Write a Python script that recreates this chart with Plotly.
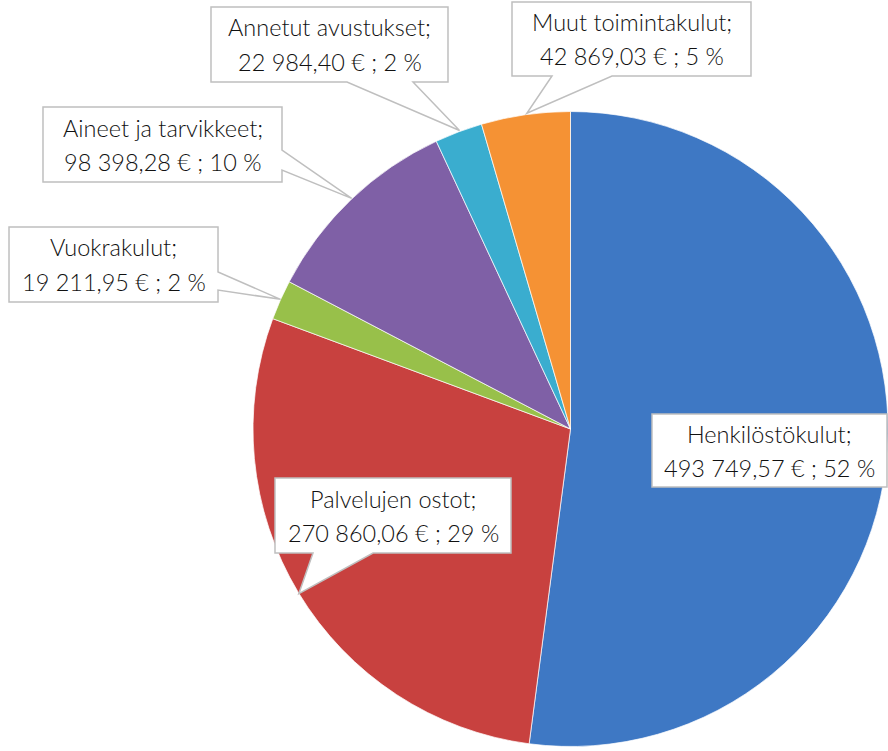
import plotly.graph_objects as go
import math

# ---- data ----
categories = ["Henkilöstökulut", "Palvelujen ostot", "Vuokrakulut",
              "Aineet ja tarvikkeet", "Annetut avustukset", "Muut toimintakulut"]
values = [493749.57, 270860.06, 19211.95, 98398.28, 22984.40, 42869.03]
colors = ["#3E78C4", "#C8413F", "#98C04A", "#7F60A6", "#3AADCF", "#F59234"]

W, H = 888, 751
CX, CY, R = 572, 429, 319  # pie centre / radius in pixels

def fmt_eur(v):
    s = f"{v:,.2f}"
    s = s.replace(",", " ").replace(".", ",")
    return s + " €"

total = sum(values)

def px(x):
    return x / W

def py(y):
    return 1 - y / H

# label callout boxes (pixels: x0, y0, x1, y1), wedge side + base positions
boxes = {
    "Henkilöstökulut": dict(box=(652, 414, 887, 487), side=None),
    "Palvelujen ostot": dict(box=(275, 478, 511, 553), side="bottom", base=(313, 373)),
    "Vuokrakulut": dict(box=(9, 227, 218, 302), side="right", base=(272, 290)),
    "Aineet ja tarvikkeet": dict(box=(43, 107, 282, 182), side="right", base=(150, 170)),
    "Annetut avustukset": dict(box=(211, 7, 448, 82), side="bottom", base=(347, 413)),
    "Muut toimintakulut": dict(box=(512, 2, 751, 76), side="bottom", base=(552, 612)),
}

fig = go.Figure()
fig.add_trace(go.Pie(
    labels=categories, values=values, sort=False, direction="clockwise",
    rotation=0, textinfo="none", hoverinfo="label+value+percent",
    marker=dict(colors=colors, line=dict(color="rgba(255,255,255,0.7)", width=1)),
    domain=dict(x=[px(CX - R), min(1.0, px(CX + R))], y=[py(CY + R), py(CY - R)]),
    showlegend=False,
))

shapes = []
annotations = []
cum = 0.0
for cat, v in zip(categories, values):
    frac = v / total
    mid = (cum + frac / 2) * 2 * math.pi
    cum += frac
    tipx = CX + R * math.sin(mid)
    tipy = CY - R * math.cos(mid)
    b = boxes[cat]
    x0, y0, x1, y1 = b["box"]
    if b["side"] == "bottom":
        b1, b2 = b["base"]
        pts = [(x0, y0), (x1, y0), (x1, y1), (b2, y1), (tipx, tipy), (b1, y1), (x0, y1)]
    elif b["side"] == "right":
        b1, b2 = b["base"]
        pts = [(x0, y0), (x1, y0), (x1, b1), (tipx, tipy), (x1, b2), (x1, y1), (x0, y1)]
    else:
        pts = [(x0, y0), (x1, y0), (x1, y1), (x0, y1)]
    path = "M " + " L ".join(f"{px(a):.5f},{py(c):.5f}" for a, c in pts) + " Z"
    shapes.append(dict(type="path", path=path, xref="paper", yref="paper",
                       fillcolor="white", line=dict(color="#BFBFBF", width=1.5),
                       layer="above"))
    pct = round(frac * 100)
    line1 = f"{cat};"
    line2 = f"{fmt_eur(v)} ; {pct} %"
    xc = (x0 + x1) / 2
    ycm = (y0 + y1) / 2
    for txt, yy in ((line1, ycm - 17), (line2, ycm + 17)):
        annotations.append(dict(text=txt, x=px(xc), y=py(yy), xref="paper", yref="paper",
                                showarrow=False, xanchor="center", yanchor="middle",
                                font=dict(family="Lato", size=23.5, weight=300, color="#111111")))

fig.update_layout(
    width=W, height=H,
    margin=dict(l=0, r=0, t=0, b=0),
    paper_bgcolor="white", plot_bgcolor="white",
    shapes=shapes, annotations=annotations,
)

fig.write_html("out.html", config={"displayModeBar": False},
               post_script="document.body.style.margin='0';document.body.style.overflow='hidden';")
